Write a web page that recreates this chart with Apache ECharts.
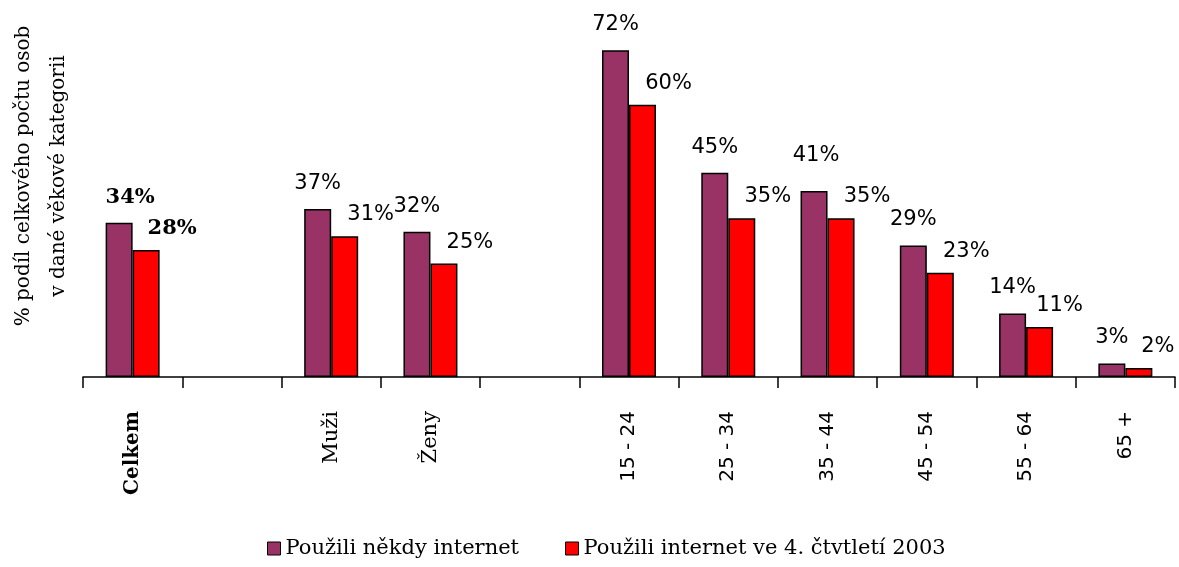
<!DOCTYPE html>
<html>
<head>
<meta charset="utf-8">
<script src="https://cdn.jsdelivr.net/npm/echarts@6/dist/echarts.min.js"></script>
<style>
  html, body { margin: 0; padding: 0; background: #fff; }
  #chart { width: 1179px; height: 567px; }
</style>
</head>
<body>
<div id="chart"></div>
<script>
var categories = ['Celkem', '', 'Muži', 'Ženy', '', '15 - 24', '25 - 34', '35 - 44', '45 - 54', '55 - 64', '65 +']
var everUsed = [34, null, 37, 32, null, 72, 45, 41, 29, 14, 3]
var usedQ4 = [28, null, 31, 25, null, 60, 35, 35, 23, 11, 2]
var seriesNames = ['Použili někdy internet', 'Použili internet ve 4. čtvtletí 2003']
var yTitle = '% podíl celkového počtu osob\nv dané věkové kategorii'

var serif = 'DejaVu Serif'
var sans = 'DejaVu Sans'

// a couple of labels were nudged by hand in the original
var purpleShift = { 0: [11, 0], 7: [2, -10] }
var redShift = { 9: [20, 0], 10: [19, 0] }

function buildData(values, baseShift, shifts, idxBold) {
  return values.map(function (v, i) {
    if (v === null) return '-'
    var off = (shifts && shifts[i]) || baseShift
    var item = { value: v, label: { offset: off } }
    if (i === idxBold) {
      item.label.fontWeight = 'bold'
      item.label.fontFamily = serif
      item.label.fontSize = 21
    }
    return item
  })
}

var chart = echarts.init(document.getElementById('chart'))
chart.setOption({
  animation: false,
  color: ['#993366', '#ff0000'],
  grid: { left: 83, right: 4, top: 14, bottom: 190, outerBoundsMode: 'none' },
  graphic: [{
    type: 'text',
    x: 41,
    y: 176,
    rotation: Math.PI / 2,
    style: {
      text: yTitle,
      align: 'center',
      verticalAlign: 'middle',
      fontFamily: serif,
      fontSize: 20,
      lineHeight: 35,
      fill: '#000'
    }
  }],
  legend: {
    bottom: 3,
    left: 262,
    itemWidth: 13,
    itemHeight: 13,
    itemGap: 46,
    icon: 'rect',
    itemStyle: { borderColor: '#000', borderWidth: 1 },
    textStyle: { fontFamily: serif, fontSize: 21, color: '#000' },
    data: seriesNames
  },
  xAxis: {
    type: 'category',
    data: categories,
    axisLine: { lineStyle: { color: '#000', width: 1.5 } },
    axisTick: { show: true, length: 11, lineStyle: { color: '#000', width: 1.5 } },
    axisLabel: {
      interval: 0,
      rotate: 90,
      margin: 34,
      color: '#000',
      fontSize: 20,
      fontFamily: sans,
      formatter: function (v) {
        if (v === 'Celkem') return '{b|' + v + '}'
        if (v === 'Muži' || v === 'Ženy') return '{s|' + v + '}'
        return v
      },
      rich: {
        b: { fontFamily: serif, fontWeight: 'bold', fontSize: 20, color: '#000' },
        s: { fontFamily: serif, fontSize: 21, color: '#000' }
      }
    }
  },
  yAxis: {
    type: 'value',
    min: 0,
    max: 80,
    axisLine: { show: false },
    axisTick: { show: false },
    axisLabel: { show: false },
    splitLine: { show: false }
  },
  series: [
    {
      name: seriesNames[0],
      type: 'bar',
      barWidth: 27,
      barGap: '0%',
      itemStyle: { borderColor: '#000', borderWidth: 1.5 },
      label: {
        show: true,
        position: 'top',
        distance: 15,
        formatter: '{c}%',
        color: '#000',
        fontFamily: sans,
        fontSize: 21
      },
      data: buildData(everUsed, [0, 0], purpleShift, 0)
    },
    {
      name: seriesNames[1],
      type: 'bar',
      barWidth: 27,
      barGap: '0%',
      itemStyle: { borderColor: '#000', borderWidth: 1.5 },
      label: {
        show: true,
        position: 'top',
        distance: 11,
        formatter: '{c}%',
        color: '#000',
        fontFamily: sans,
        fontSize: 21
      },
      data: buildData(usedQ4, [26, 0], redShift, 0)
    }
  ]
})
</script>
</body>
</html>
